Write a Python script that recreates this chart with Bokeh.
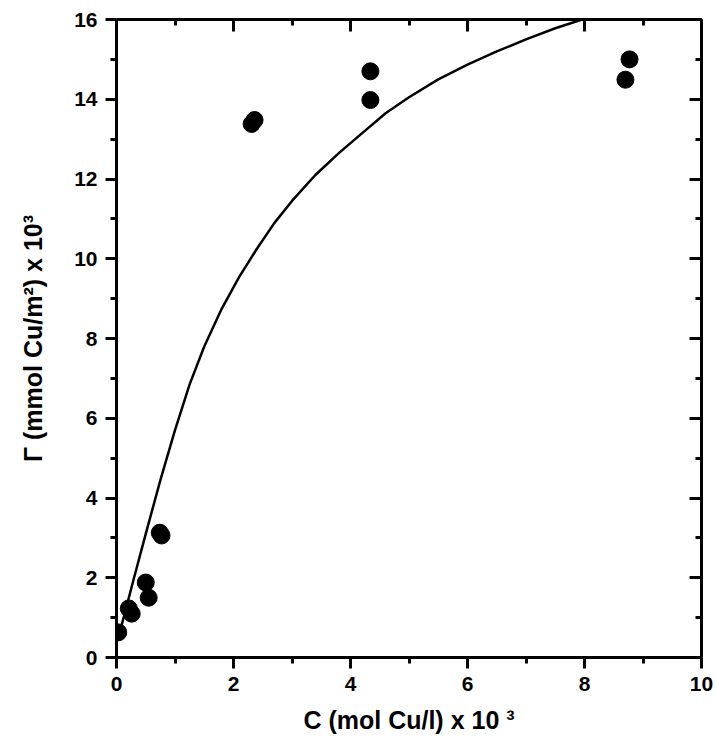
from bokeh.plotting import figure
from bokeh.models import Range1d, LinearAxis, FixedTicker
from bokeh.embed import file_html
from bokeh.resources import INLINE

# Measured points
conc = [0.03, 0.21, 0.26, 0.50, 0.55, 0.74, 0.77, 2.31, 2.36, 4.34, 4.34, 8.70, 8.77]
gamma = [0.63, 1.23, 1.10, 1.88, 1.50, 3.13, 3.06, 13.38, 13.48, 14.70, 13.98, 14.49, 15.00]

# Fitted curve
fit_c = [0.05, 0.3, 0.5, 0.75, 1.0, 1.25, 1.5, 1.8, 2.1, 2.4, 2.7, 3.0, 3.4, 3.8, 4.2, 4.6,
         5.0, 5.5, 6.0, 6.5, 7.0, 7.5, 8.0, 8.15]
fit_g = [0.6, 2.0, 3.1, 4.45, 5.7, 6.85, 7.8, 8.75, 9.55, 10.25, 10.9, 11.45, 12.1, 12.65, 13.15, 13.65,
         14.05, 14.5, 14.87, 15.2, 15.5, 15.78, 16.02, 16.09]

x_major = [0, 2, 4, 6, 8, 10]
x_minor = [1, 3, 5, 7, 9]
y_major = [0, 2, 4, 6, 8, 10, 12, 14, 16]
y_minor = [1, 3, 5, 7, 9, 11, 13, 15]

FONT = "Liberation Sans"

p = figure(width=715, height=737, output_backend="svg", toolbar_location=None,
           x_range=Range1d(0, 10), y_range=Range1d(0, 16),
           min_border_left=116, min_border_right=14, min_border_top=19, min_border_bottom=80)
p.xgrid.visible = False
p.ygrid.visible = False
p.outline_line_color = None
p.background_fill_color = "white"
p.border_fill_color = "white"

def style_axis(ax, ticks, minors, show_labels, inward):
    ax.ticker = FixedTicker(ticks=ticks, minor_ticks=minors)
    ax.axis_line_width = 3
    ax.axis_line_color = "black"
    ax.major_tick_line_width = 3
    ax.minor_tick_line_width = 3
    ax.major_tick_line_color = "black"
    ax.minor_tick_line_color = "black"
    if inward:
        ax.major_tick_in = 12
        ax.major_tick_out = 0
        ax.minor_tick_in = 6
        ax.minor_tick_out = 0
    else:
        ax.major_tick_in = 0
        ax.major_tick_out = 11
        ax.minor_tick_in = 0
        ax.minor_tick_out = 6
    if show_labels:
        ax.major_label_text_font = FONT
        ax.major_label_text_font_style = "bold"
        ax.major_label_text_font_size = "21px"
        ax.major_label_text_color = "black"
    else:
        ax.major_label_overrides = {t: "" for t in ticks}
        ax.major_label_standoff = 0

xa = p.xaxis[0]
ya = p.yaxis[0]
style_axis(xa, x_major, x_minor, True, False)
style_axis(ya, y_major, y_minor, True, False)
xa.major_label_standoff = 8
ya.major_label_standoff = 8

xa.axis_label = "C (mol Cu/l) x 10 \u00b3"
ya.axis_label = "\u0393 (mmol Cu/m\u00b2) x 10\u00b3"
for ax in (xa, ya):
    ax.axis_label_text_font = FONT
    ax.axis_label_text_font_style = "bold"
    ax.axis_label_text_font_size = "25px"
    ax.axis_label_text_color = "black"
xa.axis_label_standoff = 12
ya.axis_label_standoff = 24

top = LinearAxis()
style_axis(top, x_major, x_minor, False, True)
p.add_layout(top, "above")
right = LinearAxis()
style_axis(right, y_major, y_minor, False, True)
p.add_layout(right, "right")

p.line(fit_c, fit_g, line_color="black", line_width=2.5)
p.scatter(conc, gamma, size=17, fill_color="black", line_color="black")

open("out.html", "w").write(file_html(p, INLINE))
